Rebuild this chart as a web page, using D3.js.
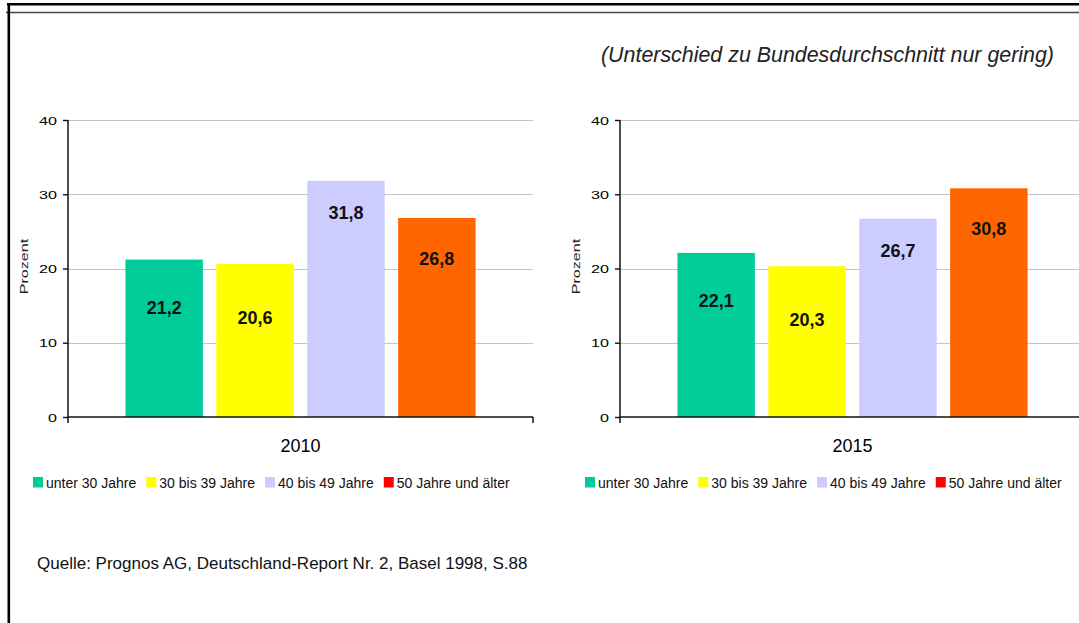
<!DOCTYPE html>
<html>
<head>
<meta charset="utf-8">
<script src="https://cdn.jsdelivr.net/npm/d3@7"></script>
<style>
  html, body { margin: 0; padding: 0; background: #fff; overflow: hidden; }
  svg { display: block; }
  text { font-family: "Liberation Sans", Arial, Helvetica, sans-serif; fill: #000; }
</style>
</head>
<body>
<svg id="chart" width="1079" height="623"></svg>
<script>
// ---- data ----
const years = ["2010", "2015"];
const ageGroups = ["unter 30 Jahre", "30 bis 39 Jahre", "40 bis 49 Jahre", "50 Jahre und älter"];
const shares2010 = [21.2, 20.6, 31.8, 26.8];
const shares2015 = [22.1, 20.3, 26.7, 30.8];
const yTicks = [0, 10, 20, 30, 40];
const yAxisLabel = "Prozent";
const noteText = "(Unterschied zu Bundesdurchschnitt nur gering)";
const sourceText = "Quelle: Prognos AG, Deutschland-Report Nr. 2, Basel 1998, S.88";

// ---- styling ----
const barColors = ["#00CC99", "#FFFF00", "#CCCCFF", "#FF6600"];
const legendColors = ["#00CC99", "#FFFF00", "#CCCCFF", "#FF0000"];
const labelDrop = [48, 53, 32, 40];   // bar top -> value label centre, per age group
const panelShift = [0, 552];          // horizontal offset of each panel
const plot = { left: 68, right: 533, top: 120, bottom: 417 };

const svg = d3.select("#chart");
const seriesByYear = [shares2010, shares2015];
const fmt = v => d3.format(".1f")(v).replace(".", ",");

// page frame
svg.append("line").attr("x1", 7).attr("x2", 1079).attr("y1", 4.2).attr("y2", 4.2)
  .attr("stroke", "#000").attr("stroke-width", 2.5);
svg.append("line").attr("x1", 6).attr("x2", 1079).attr("y1", 12.5).attr("y2", 12.5)
  .attr("stroke", "#444").attr("stroke-width", 1.5);
svg.append("line").attr("x1", 8.8).attr("x2", 8.8).attr("y1", 3).attr("y2", 623)
  .attr("stroke", "#000").attr("stroke-width", 2.6);

// note above the right panel
svg.append("text")
  .attr("x", 827.5).attr("y", 62)
  .attr("text-anchor", "middle")
  .style("font-size", "21.4px").style("font-style", "italic").style("fill", "#222")
  .text(noteText);

// source line
svg.append("text")
  .attr("x", 37).attr("y", 569)
  .style("font-size", "17px").style("fill", "#111")
  .text(sourceText);

years.forEach((year, i) => {
  const values = seriesByYear[i];
  const g = svg.append("g").attr("transform", `translate(${panelShift[i]},0)`);

  const y = d3.scaleLinear().domain([0, 40]).range([plot.bottom, plot.top]);
  const x0 = d3.scaleBand().domain([year]).range([plot.left, plot.right]).paddingOuter(0.164);
  const x1 = d3.scaleBand().domain(ageGroups).range([0, x0.bandwidth()]).paddingInner(0.148);

  // horizontal gridlines
  g.append("g").selectAll("line")
    .data(yTicks.filter(t => t > 0))
    .join("line")
    .attr("x1", plot.left).attr("x2", plot.right)
    .attr("y1", d => Math.round(y(d)) + 0.5).attr("y2", d => Math.round(y(d)) + 0.5)
    .attr("stroke", "#c4c4c4").attr("stroke-width", 1.2);

  // bars
  g.append("g").selectAll("rect")
    .data(values.map((v, j) => ({ v, j })))
    .join("rect")
    .attr("x", d => x0(year) + x1(ageGroups[d.j]))
    .attr("width", x1.bandwidth())
    .attr("y", d => y(d.v))
    .attr("height", d => y(0) - y(d.v))
    .attr("fill", d => barColors[d.j]);

  // value labels
  g.append("g").selectAll("text")
    .data(values.map((v, j) => ({ v, j })))
    .join("text")
    .attr("x", d => x0(year) + x1(ageGroups[d.j]) + x1.bandwidth() / 2)
    .attr("y", d => y(d.v) + labelDrop[d.j] + 6.5)
    .attr("text-anchor", "middle")
    .style("font-size", "18px").style("font-weight", "bold").style("fill", "#111")
    .text(d => fmt(d.v));

  // y axis
  const yAxis = g.append("g")
    .attr("transform", `translate(${plot.left},0)`)
    .call(d3.axisLeft(y).tickValues(yTicks).tickSize(5).tickSizeOuter(0).tickFormat(d3.format("d")));
  yAxis.select(".domain").remove();
  yAxis.selectAll(".tick line").attr("stroke", "#111").attr("stroke-width", 1.4);
  yAxis.selectAll(".tick text")
    .attr("x", null).attr("dy", "0.36em")
    .attr("transform", "translate(-11,0) scale(1.4,1)")
    .style("font-size", "11.5px").style("font-family", "'Liberation Sans', Arial, sans-serif")
    .attr("fill", "#111");
  g.append("line")
    .attr("x1", plot.left).attr("x2", plot.left)
    .attr("y1", plot.top).attr("y2", plot.bottom + 6)
    .attr("stroke", "#111").attr("stroke-width", 1.5);

  // x axis with boundary ticks and category label
  g.append("line")
    .attr("x1", plot.left).attr("x2", plot.right)
    .attr("y1", plot.bottom).attr("y2", plot.bottom)
    .attr("stroke", "#111").attr("stroke-width", 1.5);
  g.append("line")
    .attr("x1", plot.right).attr("x2", plot.right)
    .attr("y1", plot.bottom).attr("y2", plot.bottom + 6)
    .attr("stroke", "#111").attr("stroke-width", 1.5);
  const xAxis = g.append("g")
    .attr("transform", `translate(0,${plot.bottom})`)
    .call(d3.axisBottom(x0).tickSize(0).tickPadding(22));
  xAxis.select(".domain").remove();
  xAxis.selectAll(".tick text")
    .style("font-size", "18px").style("font-family", "'Liberation Sans', Arial, sans-serif")
    .attr("fill", "#222");

  // axis title
  g.append("text")
    .attr("transform", `translate(28,266.5) rotate(-90) scale(1.4,1)`)
    .attr("text-anchor", "middle")
    .style("font-size", "11.5px").style("fill", "#222")
    .text(yAxisLabel);

  // legend
  const legend = g.append("g");
  let lx = 33;
  ageGroups.forEach((name, j) => {
    legend.append("rect")
      .attr("x", lx).attr("y", 477).attr("width", 10).attr("height", 10.5)
      .attr("fill", legendColors[j]);
    const t = legend.append("text")
      .attr("x", lx + 13).attr("y", 487.5)
      .style("font-size", "14px").style("fill", "#111")
      .text(name);
    lx += 13 + t.node().getComputedTextLength() + 10;
  });
});
</script>
</body>
</html>
